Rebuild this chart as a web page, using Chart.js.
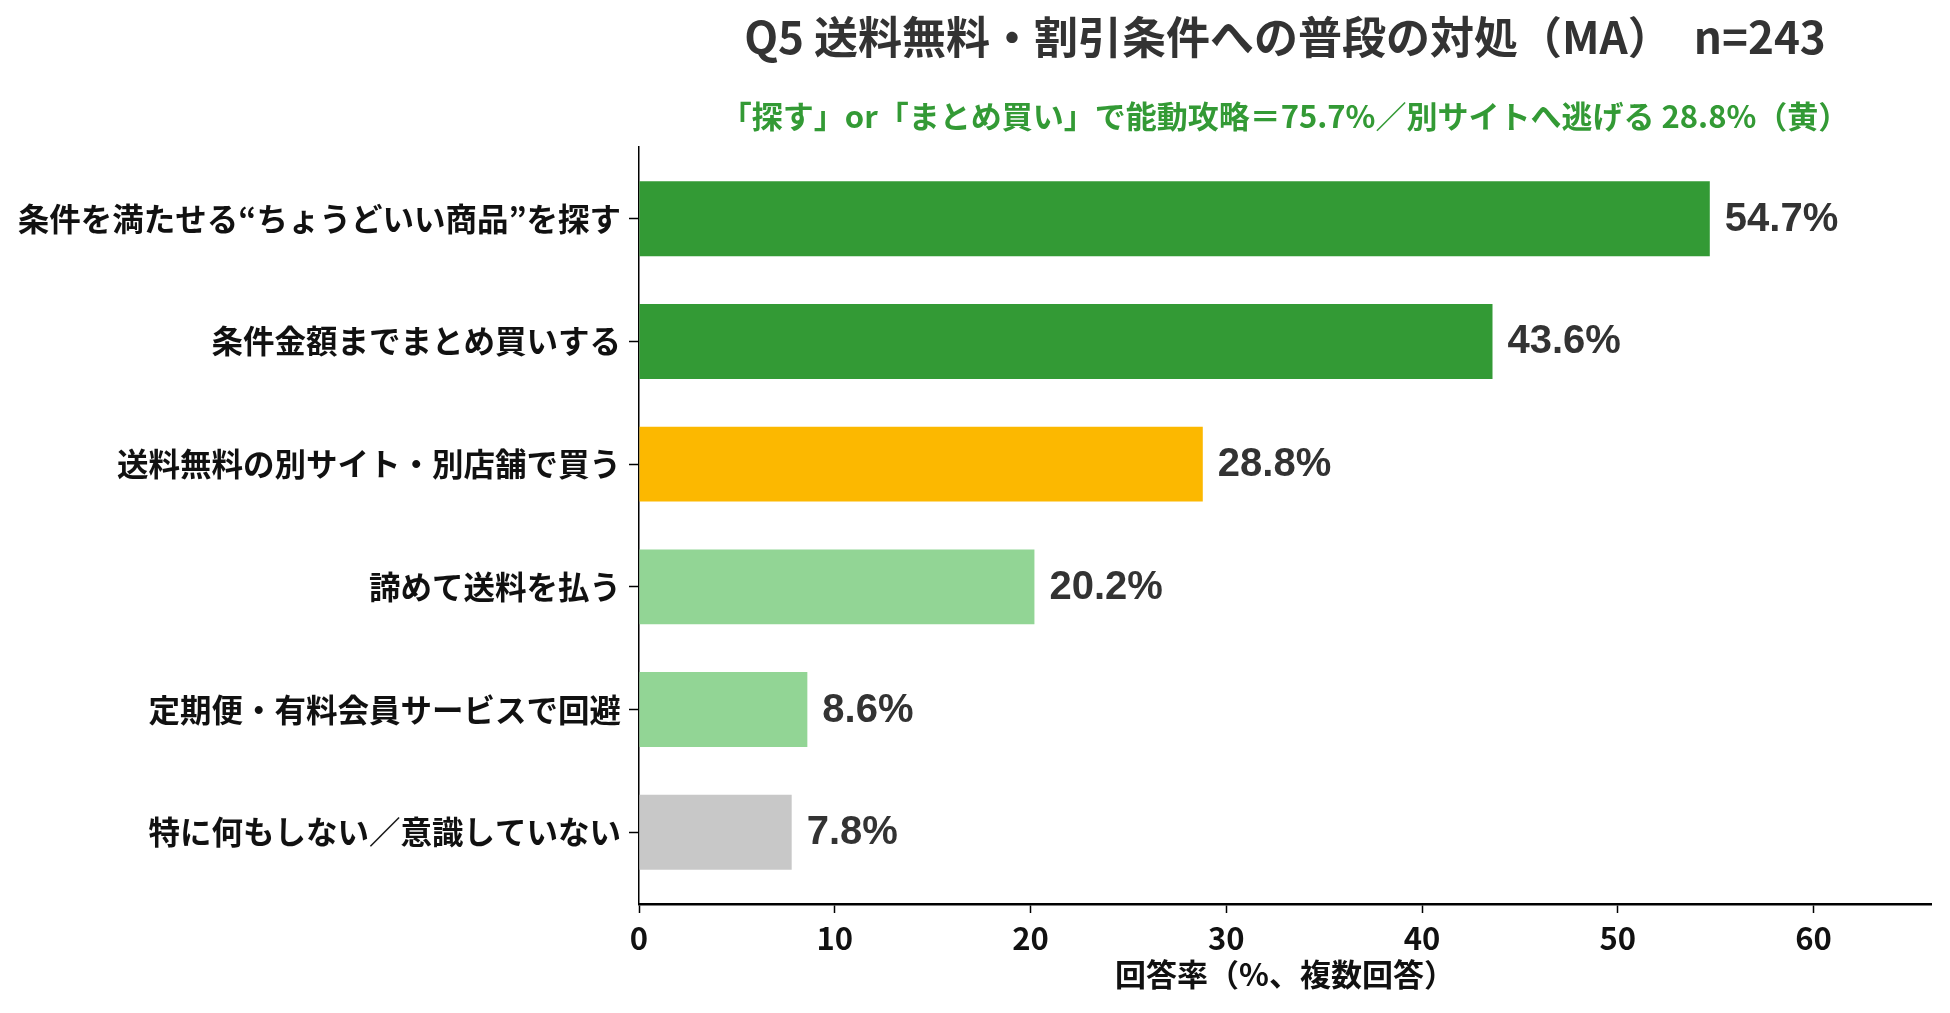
<!DOCTYPE html>
<html lang="ja">
<head>
<meta charset="utf-8">
<title>Q5 送料無料・割引条件への普段の対処</title>
<script src="https://cdn.jsdelivr.net/npm/chart.js@4.4.1/dist/chart.umd.min.js"></script>
<style>
  html, body { margin: 0; padding: 0; background: #fff; }
  canvas { display: block; }
</style>
</head>
<body>
<canvas id="myChart" width="1950" height="1013"></canvas>
<script>
// Categories (top to bottom)
const categories = [
    "条件を満たせる“ちょうどいい商品”を探す",
    "条件金額までまとめ買いする",
    "送料無料の別サイト・別店舗で買う",
    "諦めて送料を払う",
    "定期便・有料会員サービスで回避",
    "特に何もしない／意識していない"
];

// Response rate (%)
const rates = [54.7, 43.6, 28.8, 20.2, 8.6, 7.8];

// X axis ticks
const xTicks = [0, 10, 20, 30, 40, 50, 60];

const titleText = "Q5 送料無料・割引条件への普段の対処（MA）　n=243";
const subtitleText = "「探す」or「まとめ買い」で能動攻略＝75.7%／別サイトへ逃げる 28.8%（黄）";
const xTitle = "回答率（%、複数回答）";

// Bar colours
const barColors = ["#339a35", "#339a35", "#fcb800", "#92d595", "#92d595", "#c8c8c8"];

const jpFont = "'Noto Sans CJK JP', 'Noto Sans', sans-serif";

// Value labels to the right of each bar
const valueLabels = {
    id: 'valueLabels',
    afterDatasetsDraw(chart) {
        const ctx = chart.ctx;
        const meta = chart.getDatasetMeta(0);
        ctx.save();
        ctx.font = "bold 40px 'Liberation Sans', Arial, sans-serif";
        ctx.fillStyle = "#333333";
        ctx.textAlign = "left";
        ctx.textBaseline = "middle";
        meta.data.forEach((bar, i) => {
            ctx.fillText(rates[i].toFixed(1) + "%", bar.x + 15, bar.y + 1);
        });
        ctx.restore();
    }
};

const ctx = document.getElementById('myChart').getContext('2d');
const myChart = new Chart(ctx, {
    type: 'bar',
    data: {
        datasets: [{
            data: rates.map((v, i) => ({ x: v, y: i })),
            backgroundColor: barColors,
            borderWidth: 0,
            categoryPercentage: 1,
            barPercentage: 0.61
        }]
    },
    options: {
        indexAxis: 'y',
        responsive: false,
        animation: false,
        devicePixelRatio: 1,
        layout: { padding: { top: 0, right: 19, bottom: 0, left: 0 } },
        plugins: {
            legend: { display: false },
            tooltip: { enabled: false },
            title: {
                display: true,
                text: titleText,
                fullSize: false,
                color: "#333333",
                font: { family: jpFont, size: 44, weight: 'bold' },
                padding: { top: 11, bottom: 19 }
            },
            subtitle: {
                display: true,
                text: subtitleText,
                fullSize: false,
                color: "#339a35",
                font: { family: jpFont, size: 31, weight: 'bold' },
                padding: { top: 15, bottom: 12 }
            }
        },
        scales: {
            x: {
                type: 'linear',
                min: 0,
                max: 66,
                afterBuildTicks(scale) {
                    scale.ticks = xTicks.map(v => ({ value: v }));
                },
                afterFit(scale) {
                    scale.height = 109;
                },
                ticks: {
                    color: "#111111",
                    padding: 7,
                    font: { family: jpFont, size: 31, weight: 'bold' }
                },
                grid: {
                    drawOnChartArea: false,
                    drawTicks: true,
                    tickLength: 9,
                    tickWidth: 1.5,
                    tickColor: "#000000"
                },
                border: { color: "#000000", width: 2.5 },
                title: {
                    display: true,
                    text: xTitle,
                    color: "#111111",
                    font: { family: jpFont, size: 31, weight: 'bold' },
                    padding: { top: 0, bottom: 20 }
                }
            },
            y: {
                type: 'linear',
                reverse: true,
                offset: false,
                min: -0.585,
                max: 5.585,
                afterBuildTicks(scale) {
                    scale.ticks = categories.map((c, i) => ({ value: i }));
                },
                afterFit(scale) {
                    scale.width = 639;
                },
                ticks: {
                    color: "#111111",
                    padding: 8,
                    font: { family: jpFont, size: 31.5, weight: 'bold' },
                    callback: (value) => categories[value]
                },
                grid: {
                    offset: false,
                    drawOnChartArea: false,
                    drawTicks: true,
                    tickLength: 10,
                    tickWidth: 1.5,
                    tickColor: "#000000"
                },
                border: { color: "#000000", width: 1.5 }
            }
        }
    },
    plugins: [valueLabels]
});
</script>
</body>
</html>
